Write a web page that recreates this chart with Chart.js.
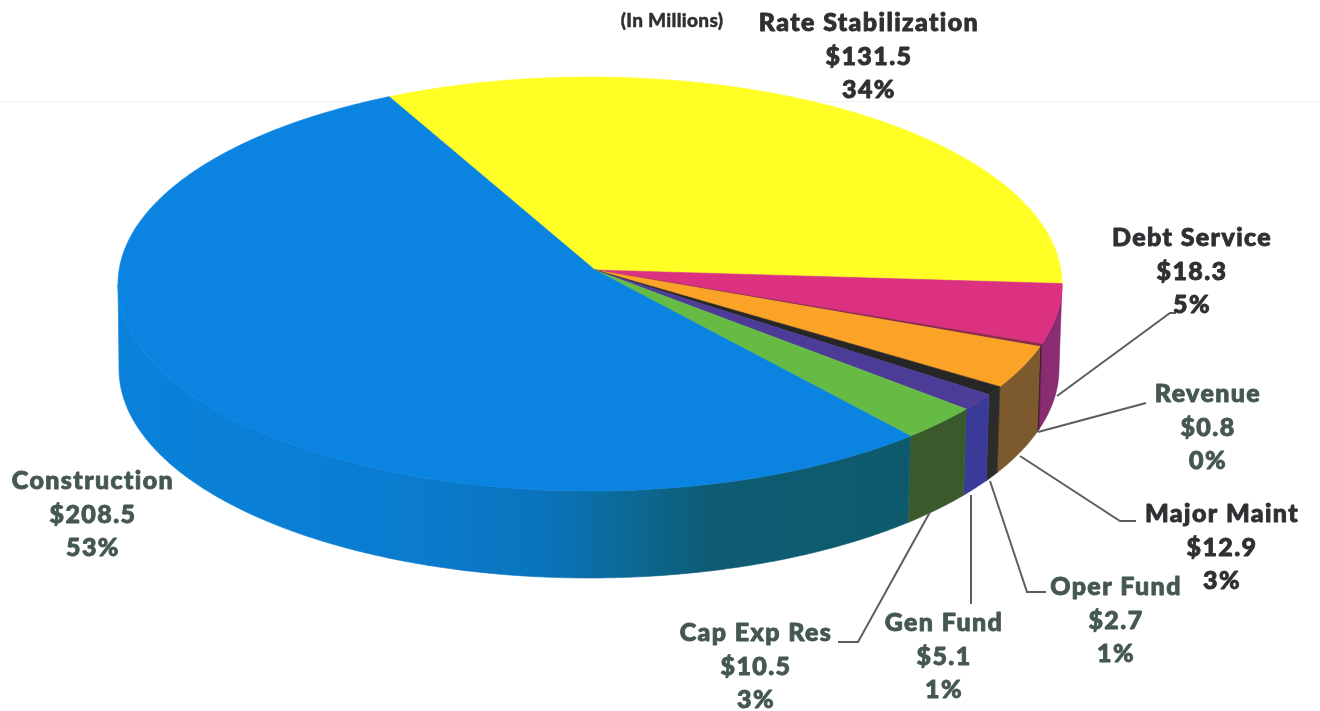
<!DOCTYPE html>
<html>
<head>
<meta charset="utf-8">
<style>
  html, body { margin: 0; padding: 0; background: #ffffff; }
  canvas { display: block; }
</style>
<script src="https://cdn.jsdelivr.net/npm/chart.js@4/dist/chart.umd.min.js"></script>
</head>
<body>
<canvas id="pie" width="1320" height="711"></canvas>
<script>
// Fund allocation, in millions of dollars
const categories = ['Rate Stabilization', 'Debt Service', 'Revenue', 'Major Maint', 'Oper Fund', 'Gen Fund', 'Cap Exp Res', 'Construction'];
const amounts = [131.5, 18.3, 0.8, 12.9, 2.7, 5.1, 10.5, 208.5];
const shares = [34, 5, 0, 3, 1, 1, 3, 53];

const topColors = ['#ffff26', '#dc3081', '#8a2a4a', '#fba327', '#262626', '#4c3c98', '#66bb45', '#0a84e0'];
const sideColors = ['#999917', '#8a2c72', '#4a1a30', '#7d5a2e', '#2c2c2a', '#3a3a98', '#3a5a2c', null];

const DARK = '#2f3033';
const SLATE = '#45584f';
// One entry per category: label centre, first line centre, colour, leader polyline
const labelLayout = [
  { x: 869, y: 23, color: DARK, leader: null },
  { x: 1192, y: 238, color: DARK, leader: [[1057, 396], [1170, 313], [1176, 313]] },
  { x: 1208, y: 394, color: SLATE, leader: [[1038, 432], [1146, 403]] },
  { x: 1222, y: 514, color: DARK, leader: [[1020, 456], [1120, 521], [1136, 521]] },
  { x: 1116, y: 587, color: SLATE, leader: [[990, 481], [1027, 592], [1046, 592]] },
  { x: 944, y: 623, color: SLATE, leader: [[971, 495], [971, 604]] },
  { x: 756, y: 633, color: SLATE, leader: [[930, 512], [858, 642], [838, 642]] },
  { x: 93, y: 481, color: SLATE, leader: null }
];

// Tilted disc geometry: top rim ellipse, bottom rim ellipse and the off-centre hub
const rim = { cx: 590, cy: 284, rx: 472, ry: 207 };
const base = { cx: 589, cy: 369, rx: 470, ry: 209 };
const hub = { x: (595 - rim.cx) / rim.rx, y: (270 - rim.cy) / rim.ry };

// Parameter on the rim reached by a ray leaving the hub at angle a
function rimParam(a) {
  const dx = Math.cos(a), dy = Math.sin(a);
  const b = hub.x * dx + hub.y * dy;
  const c = hub.x * hub.x + hub.y * hub.y - 1;
  const s = -b + Math.sqrt(b * b - c);
  return Math.atan2(hub.y + s * dy, hub.x + s * dx);
}
const onEllipse = (e, t) => [e.cx + e.rx * Math.cos(t), e.cy + e.ry * Math.sin(t)];

const tiltedPie = {
  id: 'tiltedPie',
  beforeDatasetsDraw(chart) {
    const ctx = chart.ctx;
    const arcs = chart.getDatasetMeta(0).data;
    const TWO_PI = Math.PI * 2, STEP = Math.PI / 360;

    const spans = arcs.map(arc => {
      let t0 = rimParam(arc.startAngle), t1 = rimParam(arc.endAngle);
      while (t0 < 0) t0 += TWO_PI;
      while (t1 <= t0) t1 += TWO_PI;
      return [t0, t1];
    });

    // Outer wall: only the part of the rim that faces the viewer
    const wall = ctx.createLinearGradient(119, 0, 905, 0);
    wall.addColorStop(0, '#0a82da');
    wall.addColorStop(0.36, '#0a7cd0');
    wall.addColorStop(0.54, '#0a74bc');
    wall.addColorStop(0.64, '#0b6a98');
    wall.addColorStop(0.75, '#0e5c74');
    wall.addColorStop(1, '#0e5a6c');
    spans.forEach(([t0, t1], i) => {
      const ranges = [[t0, t1], [t0 - TWO_PI, t1 - TWO_PI]];
      ranges.forEach(([a, b]) => {
        const from = Math.max(a, 0), to = Math.min(b, Math.PI);
        if (to <= from) return;
        ctx.beginPath();
        for (let t = from; t < to; t += STEP) ctx.lineTo(...onEllipse(rim, t));
        ctx.lineTo(...onEllipse(rim, to));
        ctx.lineTo(...onEllipse(base, to));
        for (let t = to; t > from; t -= STEP) ctx.lineTo(...onEllipse(base, t));
        ctx.lineTo(...onEllipse(base, from));
        ctx.closePath();
        const fill = sideColors[i] || wall;
        ctx.fillStyle = fill; ctx.strokeStyle = fill; ctx.lineWidth = 0.6;
        ctx.fill(); ctx.stroke();
      });
    });

    // Top face
    spans.forEach(([t0, t1], i) => {
      ctx.beginPath();
      ctx.moveTo(595, 270);
      for (let t = t0; t < t1; t += STEP) ctx.lineTo(...onEllipse(rim, t));
      ctx.lineTo(...onEllipse(rim, t1));
      ctx.closePath();
      ctx.fillStyle = topColors[i]; ctx.strokeStyle = topColors[i]; ctx.lineWidth = 0.6;
      ctx.fill(); ctx.stroke();
    });
    return false;
  },
  afterDraw(chart) {
    const ctx = chart.ctx;
    ctx.save();
    // Leader lines
    ctx.strokeStyle = '#5a5f5c';
    ctx.lineWidth = 2;
    labelLayout.forEach(l => {
      if (!l.leader) return;
      ctx.beginPath();
      l.leader.forEach(p => ctx.lineTo(p[0], p[1]));
      ctx.stroke();
    });
    // Three-line labels: name, amount, share, thickened with a thin outline
    ctx.textAlign = 'center';
    ctx.textBaseline = 'middle';
    ctx.lineJoin = 'round';
    const heavyText = (text, x, y) => {
      ctx.fillText(text, x, y);
      ctx.strokeText(text, x, y);
    };
    ctx.letterSpacing = '1.4px';
    ctx.font = '900 25px Lato';
    ctx.lineWidth = 0.9;
    categories.forEach((name, i) => {
      const l = labelLayout[i];
      ctx.fillStyle = l.color;
      ctx.strokeStyle = l.color;
      heavyText(name, l.x, l.y);
      heavyText('$' + amounts[i].toFixed(1), l.x, l.y + 33.5);
      heavyText(shares[i] + '%', l.x, l.y + 67);
    });
    ctx.letterSpacing = '0.3px';
    ctx.font = '900 19px Lato';
    ctx.fillStyle = DARK;
    ctx.strokeStyle = DARK;
    ctx.lineWidth = 0.4;
    heavyText('(In Millions)', 672, 21);
    ctx.restore();
  }
};

const hairline = {
  id: 'hairline',
  beforeDraw(chart) {
    const ctx = chart.ctx;
    ctx.fillStyle = '#f4f4f2';
    ctx.fillRect(0, 101, 1320, 1);
  }
};

new Chart(document.getElementById('pie'), {
  type: 'pie',
  data: {
    labels: categories,
    datasets: [{ data: amounts, backgroundColor: topColors, borderWidth: 0 }]
  },
  options: {
    responsive: false,
    animation: false,
    rotation: -27.5,
    plugins: { legend: { display: false }, title: { display: false }, tooltip: { enabled: false } }
  },
  plugins: [hairline, tiltedPie]
});
</script>
</body>
</html>
